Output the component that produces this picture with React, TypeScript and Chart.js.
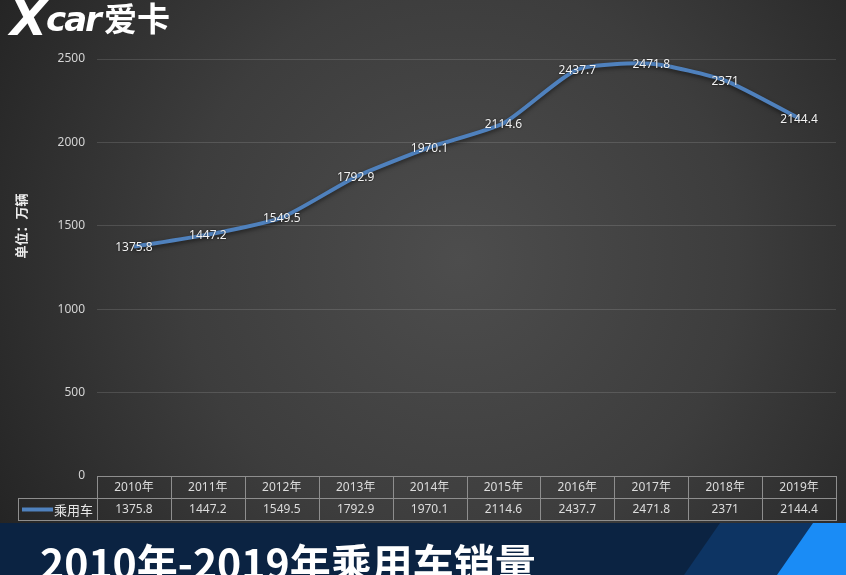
import React, { useEffect, useRef } from "react";
import { Chart, registerables } from "chart.js";

Chart.register(...registerables);

const years = ["2010年", "2011年", "2012年", "2013年", "2014年", "2015年", "2016年", "2017年", "2018年", "2019年"];
const sales = [1375.8, 1447.2, 1549.5, 1792.9, 1970.1, 2114.6, 2437.7, 2471.8, 2371, 2144.4];
const seriesName = "乘用车";
const yMin = 0;
const yMax = 2500;
const yStep = 500;
const axisTitle = "单位：万辆";
const chartTitle = "2010年-2019年乘用车销量";
const logoX = "X";
const logoCar = "car";
const logoCn = "爱卡";

const LINE = "#4f81bd";
const FONT = "'Noto Sans', 'Noto Sans CJK SC', sans-serif";
const CJK = "'Noto Sans CJK SC', 'Noto Sans', sans-serif";

const bgPlugin = {
  id: "bg",
  beforeDraw(chart: any) {
    const ctx = chart.ctx as CanvasRenderingContext2D;
    const w = chart.width, h = chart.height;
    ctx.save();
    const g = ctx.createRadialGradient(460, 260, 0, 460, 260, 620);
    g.addColorStop(0, "#4d4d4d");
    g.addColorStop(0.45, "#3d3d3d");
    g.addColorStop(1, "#1c1c1c");
    ctx.fillStyle = g;
    ctx.fillRect(0, 0, w, h);
    ctx.restore();
  },
  beforeDatasetsDraw(chart: any) {
    const ctx = chart.ctx as CanvasRenderingContext2D;
    ctx.save();
    ctx.shadowColor = "rgba(0,0,0,0.5)";
    ctx.shadowBlur = 4;
    ctx.shadowOffsetY = 2;
  },
  afterDatasetsDraw(chart: any) {
    const ctx = chart.ctx as CanvasRenderingContext2D;
    ctx.restore();
    const meta = chart.getDatasetMeta(0);
    const data = chart.data.datasets[0].data as number[];
    ctx.save();
    ctx.font = `12px ${FONT}`;
    ctx.textAlign = "center";
    ctx.textBaseline = "middle";
    ctx.shadowColor = "rgba(0,0,0,0.7)";
    ctx.shadowBlur = 2;
    ctx.fillStyle = "#f2f2f2";
    meta.data.forEach((pt: any, i: number) => {
      ctx.fillText(String(data[i]), pt.x, pt.y + 1);
    });
    ctx.restore();
  },
  afterDraw(chart: any) {
    const ctx = chart.ctx as CanvasRenderingContext2D;
    const area = chart.chartArea;
    const labels = chart.data.labels as string[];
    const data = chart.data.datasets[0].data as number[];
    const n = labels.length;
    const colW = (area.right - area.left) / n;
    const top = Math.round(area.bottom);
    const rowH = 22;
    const legendLeft = 18;
    ctx.save();
    // table lines
    ctx.strokeStyle = "#8e8e8e";
    ctx.lineWidth = 1;
    ctx.beginPath();
    ctx.moveTo(area.left, top + 0.5);
    ctx.lineTo(area.right, top + 0.5);
    ctx.moveTo(legendLeft, top + rowH + 0.5);
    ctx.lineTo(area.right, top + rowH + 0.5);
    ctx.moveTo(legendLeft, top + 2 * rowH + 0.5);
    ctx.lineTo(area.right, top + 2 * rowH + 0.5);
    for (let i = 0; i <= n; i++) {
      const x = Math.round(area.left + i * colW) + 0.5;
      ctx.moveTo(x, top);
      ctx.lineTo(x, top + 2 * rowH + 1);
    }
    ctx.moveTo(legendLeft + 0.5, top + rowH);
    ctx.lineTo(legendLeft + 0.5, top + 2 * rowH + 1);
    ctx.stroke();

    // table text
    ctx.fillStyle = "#dcdcdc";
    ctx.font = `12px ${FONT}`;
    ctx.textAlign = "center";
    ctx.textBaseline = "middle";
    for (let i = 0; i < n; i++) {
      const cx = area.left + (i + 0.5) * colW;
      ctx.fillText(labels[i], cx, top + rowH / 2 + 1);
      ctx.fillText(String(data[i]), cx, top + rowH * 1.5 + 1);
    }
    // legend
    ctx.strokeStyle = LINE;
    ctx.lineWidth = 4;
    ctx.beginPath();
    ctx.moveTo(22, top + rowH * 1.5 + 0.5);
    ctx.lineTo(53, top + rowH * 1.5 + 0.5);
    ctx.stroke();
    ctx.fillStyle = "#e6e6e6";
    ctx.font = `13px ${CJK}`;
    ctx.textAlign = "left";
    ctx.fillText(chart.data.datasets[0].label, 54, top + rowH * 1.5 + 1);

    // axis title
    ctx.save();
    ctx.translate(21, 226);
    ctx.rotate(-Math.PI / 2);
    ctx.font = `bold 13px ${CJK}`;
    ctx.fillStyle = "#ececec";
    ctx.textAlign = "center";
    ctx.textBaseline = "middle";
    ctx.fillText(axisTitle, 0, 0);
    ctx.restore();

    // banner
    const by = 523;
    const w = chart.width, h = chart.height;
    ctx.fillStyle = "#0b2342";
    ctx.fillRect(0, by, w, h - by);
    ctx.fillStyle = "#0d3463";
    ctx.beginPath();
    ctx.moveTo(720, by);
    ctx.lineTo(w, by);
    ctx.lineTo(w, h);
    ctx.lineTo(684, h);
    ctx.closePath();
    ctx.fill();
    ctx.fillStyle = "#1a8cf6";
    ctx.beginPath();
    ctx.moveTo(813, by);
    ctx.lineTo(w, by);
    ctx.lineTo(w, h);
    ctx.lineTo(777, h);
    ctx.closePath();
    ctx.fill();
    ctx.fillStyle = "#ffffff";
    ctx.font = `bold 41px ${CJK}`;
    ctx.textAlign = "left";
    ctx.textBaseline = "alphabetic";
    ctx.fillText(chartTitle, 40, 579);

    // logo
    ctx.fillStyle = "#ffffff";
    ctx.font = `italic bold 48px 'DejaVu Sans', sans-serif`;
    ctx.fillText(logoX, 10, 35);
    ctx.font = `italic bold 34px 'DejaVu Sans', sans-serif`;
    (ctx as any).letterSpacing = "-2px";
    ctx.fillText(logoCar, 46, 31);
    (ctx as any).letterSpacing = "0px";
    ctx.font = `bold 33px ${CJK}`;
    ctx.fillText(logoCn, 104, 31);
    ctx.restore();
  },
};

export default function App() {
  const ref = useRef<HTMLCanvasElement>(null);
  useEffect(() => {
    const canvas = ref.current!;
    const chart = new Chart(canvas, {
      type: "line",
      data: {
        labels: years,
        datasets: [
          {
            label: seriesName,
            data: sales,
            borderColor: LINE,
            backgroundColor: LINE,
            borderWidth: 4,
            pointRadius: 0,
            tension: 0.2,
            fill: false,
          },
        ],
      },
      options: {
        responsive: false,
        animation: false,
        devicePixelRatio: 1,
        layout: { padding: { left: 0, right: 10, top: 59, bottom: 99 } },
        plugins: {
          legend: { display: false },
          tooltip: { enabled: false },
          title: { display: false },
        },
        scales: {
          x: { type: "category", display: false, offset: true },
          y: {
            min: yMin,
            max: yMax,
            afterFit(scale: any) {
              scale.width = 97;
            },
            ticks: {
              stepSize: yStep,
              padding: 12,
              color: "#d4d4d4",
              font: { size: 12, family: FONT },
              callback: (v: any) => String(v),
            },
            grid: { color: "rgba(255,255,255,0.13)", drawTicks: false, lineWidth: 1 },
            border: { display: false },
          },
        },
      } as any,
      plugins: [bgPlugin],
    });
    return () => chart.destroy();
  }, []);
  return (
    <div style={{ position: "fixed", left: 0, top: 0, width: 846, height: 575, overflow: "hidden" }}>
      <canvas ref={ref} width={846} height={575} style={{ display: "block", width: 846, height: 575 }} />
    </div>
  );
}
